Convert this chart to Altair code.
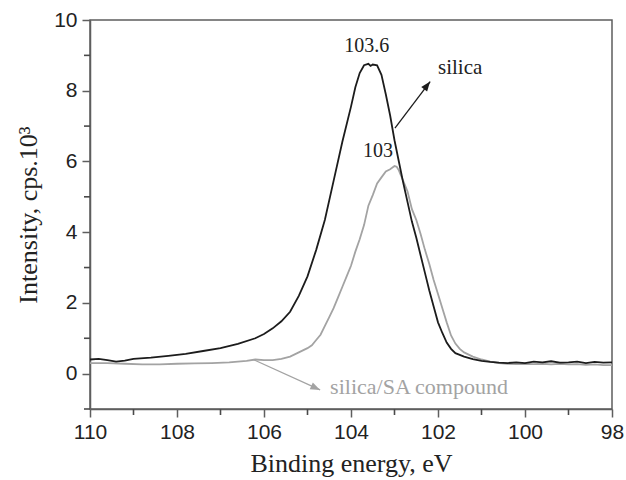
import altair as alt
import pandas as pd

# ---- data ----
energy_silica = [110.0, 109.8, 109.6, 109.4, 109.2, 109.0, 108.6, 108.2, 107.8, 107.4,
                 107.0, 106.6, 106.2, 106.0, 105.8, 105.6, 105.4, 105.2, 105.0, 104.8,
                 104.6, 104.4, 104.2, 104.0, 103.9, 103.8, 103.7, 103.6, 103.55, 103.5,
                 103.4, 103.3, 103.2, 103.1, 103.0, 102.9, 102.8, 102.7, 102.6, 102.5,
                 102.4, 102.3, 102.2, 102.1, 102.0, 101.9, 101.8, 101.7, 101.6, 101.4,
                 101.2, 101.0, 100.8, 100.6, 100.4, 100.2, 100.0, 99.8, 99.6, 99.4,
                 99.2, 99.0, 98.8, 98.6, 98.4, 98.2, 98.0]
int_silica = [0.40, 0.42, 0.38, 0.34, 0.37, 0.42, 0.45, 0.50, 0.56, 0.64,
              0.72, 0.84, 1.00, 1.12, 1.28, 1.48, 1.75, 2.20, 2.75, 3.50,
              4.35, 5.45, 6.55, 7.55, 8.10, 8.50, 8.72, 8.76, 8.70, 8.74,
              8.72, 8.45, 7.90, 7.30, 6.60, 6.00, 5.40, 4.85, 4.30, 3.85,
              3.35, 2.85, 2.35, 1.90, 1.45, 1.15, 0.88, 0.70, 0.58, 0.48,
              0.41, 0.36, 0.33, 0.31, 0.30, 0.32, 0.30, 0.34, 0.32, 0.35,
              0.31, 0.32, 0.34, 0.30, 0.33, 0.31, 0.32]

energy_sa = [110.0, 109.6, 109.2, 108.8, 108.4, 108.0, 107.6, 107.2, 106.8, 106.4,
             106.2, 106.0, 105.8, 105.6, 105.4, 105.2, 105.0, 104.9, 104.8, 104.7,
             104.6, 104.5, 104.4, 104.3, 104.2, 104.1, 104.0, 103.9, 103.8, 103.7,
             103.6, 103.5, 103.4, 103.3, 103.2, 103.1, 103.0, 102.95, 102.9, 102.8,
             102.7, 102.6, 102.5, 102.4, 102.3, 102.2, 102.1, 102.0, 101.9, 101.8,
             101.7, 101.6, 101.5, 101.4, 101.2, 101.0, 100.8, 100.6, 100.4, 100.2,
             100.0, 99.8, 99.6, 99.4, 99.2, 99.0, 98.8, 98.6, 98.4, 98.2, 98.0]
int_sa = [0.30, 0.30, 0.28, 0.26, 0.26, 0.28, 0.29, 0.30, 0.32, 0.36,
          0.40, 0.38, 0.38, 0.42, 0.48, 0.60, 0.72, 0.80, 0.95, 1.10,
          1.35, 1.60, 1.85, 2.15, 2.45, 2.75, 3.05, 3.45, 3.80, 4.20,
          4.75, 5.05, 5.38, 5.55, 5.72, 5.78, 5.87, 5.85, 5.75, 5.45,
          5.15, 4.65, 4.35, 3.95, 3.50, 3.10, 2.65, 2.25, 1.85, 1.45,
          1.08, 0.85, 0.70, 0.60, 0.48, 0.40, 0.34, 0.30, 0.28, 0.27,
          0.28, 0.27, 0.28, 0.26, 0.28, 0.26, 0.27, 0.25, 0.26, 0.24, 0.24]

x_major = [110, 108, 106, 104, 102, 100, 98]
x_minor = [109, 107, 105, 103, 101, 99]
y_major = [0, 2, 4, 6, 8, 10]
y_minor = [-1, 1, 3, 5, 7, 9]

# annotations (in data coordinates)
peak_labels = ["103.6", "103"]
peak_label_x = [103.64, 103.38]
peak_label_y = [9.10, 6.12]

silica_label = ["silica"]
silica_label_x = [101.49]
silica_label_y = [8.46]
silica_arrow = {"x": [102.99], "y": [6.94], "x2": [102.18], "y2": [8.26]}

sa_label = ["silica/SA compound"]
sa_label_x = [104.48]
sa_label_y = [-0.58]
sa_arrow = {"x": [106.25], "y": [0.40], "x2": [104.71], "y2": [-0.46]}

# ---- chart ----
W, H = 522, 389
BLACK = "#1c1c1c"
GRAY = "#a3a3a3"
AXC = "#5e5e5e"
SERIF = "Liberation Serif"
SANS = "Liberation Sans"
MAJOR_TICK, MINOR_TICK = 8, 6

xs = alt.Scale(domain=[98, 110], reverse=True, nice=False, zero=False)
ys = alt.Scale(domain=[-1, 10], nice=False, zero=False)

df_si = pd.DataFrame({"e": energy_silica, "i": int_silica})
df_sa = pd.DataFrame({"e": energy_sa, "i": int_sa})

x_axis = alt.Axis(values=x_major, tickSize=MAJOR_TICK, tickWidth=1.5, tickColor=AXC,
                  domainColor=AXC, domainWidth=1.5, labelFont=SANS,
                  labelFontSize=21, labelColor="#222222", labelPadding=4,
                  title="Binding energy, eV", titleFont=SERIF, titleFontSize=26,
                  titleFontWeight="normal", titleColor="#222222", titlePadding=8,
                  grid=False, orient="bottom", labelFlush=False)
y_axis = alt.Axis(values=y_major, tickSize=MAJOR_TICK, tickWidth=1.5, tickColor=AXC,
                  domainColor=AXC, domainWidth=1.5, labelFont=SANS,
                  labelFontSize=21, labelColor="#222222", labelPadding=5,
                  title="Intensity, cps.10³", titleFont=SERIF, titleFontSize=26,
                  titleFontWeight="normal", titleColor="#222222", titlePadding=12,
                  grid=False, orient="left", labelFlush=False)

sa_line = alt.Chart(df_sa).mark_line(color=GRAY, strokeWidth=1.8).encode(
    x=alt.X("e:Q", scale=xs, axis=x_axis),
    y=alt.Y("i:Q", scale=ys, axis=y_axis),
    order=alt.Order("e:Q", sort="descending"),
)
si_line = alt.Chart(df_si).mark_line(color=BLACK, strokeWidth=1.8).encode(
    x=alt.X("e:Q", scale=xs),
    y=alt.Y("i:Q", scale=ys),
    order=alt.Order("e:Q", sort="descending"),
)

# minor ticks (odd values) drawn through the same scales, outside the frame
x_minor_ticks = alt.Chart(pd.DataFrame({"xv": x_minor})).mark_tick(
    color="#4a4a4a", thickness=1.6, size=MINOR_TICK, orient="vertical", opacity=1
).encode(x=alt.X("xv:Q", scale=xs), y=alt.value(H + MINOR_TICK / 2))
y_minor_ticks = alt.Chart(pd.DataFrame({"yv": y_minor})).mark_tick(
    color="#4a4a4a", thickness=1.6, size=MINOR_TICK, orient="horizontal", opacity=1
).encode(y=alt.Y("yv:Q", scale=ys), x=alt.value(-MINOR_TICK / 2))

peak_text = alt.Chart(pd.DataFrame({"t": peak_labels, "x": peak_label_x, "y": peak_label_y})).mark_text(
    font=SERIF, fontSize=20, color="#222222", align="center", baseline="alphabetic"
).encode(x=alt.X("x:Q", scale=xs), y=alt.Y("y:Q", scale=ys), text="t:N")

silica_text = alt.Chart(pd.DataFrame({"t": silica_label, "x": silica_label_x, "y": silica_label_y})).mark_text(
    font=SERIF, fontSize=21, color="#222222", align="center", baseline="alphabetic"
).encode(x=alt.X("x:Q", scale=xs), y=alt.Y("y:Q", scale=ys), text="t:N")

sa_text = alt.Chart(pd.DataFrame({"t": sa_label, "x": sa_label_x, "y": sa_label_y})).mark_text(
    font=SERIF, fontSize=22, color=GRAY, align="left", baseline="alphabetic"
).encode(x=alt.X("x:Q", scale=xs), y=alt.Y("y:Q", scale=ys), text="t:N")

ARROW = "M0,0 L-0.38,1 L0.38,1 Z"

si_arrow_df = pd.DataFrame(silica_arrow)
si_arrow_line = alt.Chart(si_arrow_df).mark_rule(color=BLACK, strokeWidth=1.3).encode(
    x=alt.X("x:Q", scale=xs), y=alt.Y("y:Q", scale=ys), x2="x2:Q", y2="y2:Q")
si_arrow_head = alt.Chart(si_arrow_df).mark_point(
    shape=ARROW, filled=True, color=BLACK, opacity=1, size=380, angle=38, strokeWidth=0
).encode(x=alt.X("x2:Q", scale=xs), y=alt.Y("y2:Q", scale=ys))

sa_arrow_df = pd.DataFrame(sa_arrow)
sa_arrow_line = alt.Chart(sa_arrow_df).mark_rule(color=GRAY, strokeWidth=1.3).encode(
    x=alt.X("x:Q", scale=xs), y=alt.Y("y:Q", scale=ys), x2="x2:Q", y2="y2:Q")
sa_arrow_head = alt.Chart(sa_arrow_df).mark_point(
    shape=ARROW, filled=True, color=GRAY, opacity=1, size=380, angle=115, strokeWidth=0
).encode(x=alt.X("x2:Q", scale=xs), y=alt.Y("y2:Q", scale=ys))

chart = alt.layer(
    sa_line, si_line, x_minor_ticks, y_minor_ticks, peak_text, silica_text, sa_text,
    si_arrow_line, si_arrow_head, sa_arrow_line, sa_arrow_head
).properties(
    width=W, height=H,
    autosize=alt.AutoSizeParams(type="none"),
    padding={"left": 90, "top": 20, "right": 14, "bottom": 71},
    background="white",
).configure_view(stroke=AXC, strokeWidth=1.5)

chart.save("out.html", embed_options={"renderer": "svg", "actions": False})
